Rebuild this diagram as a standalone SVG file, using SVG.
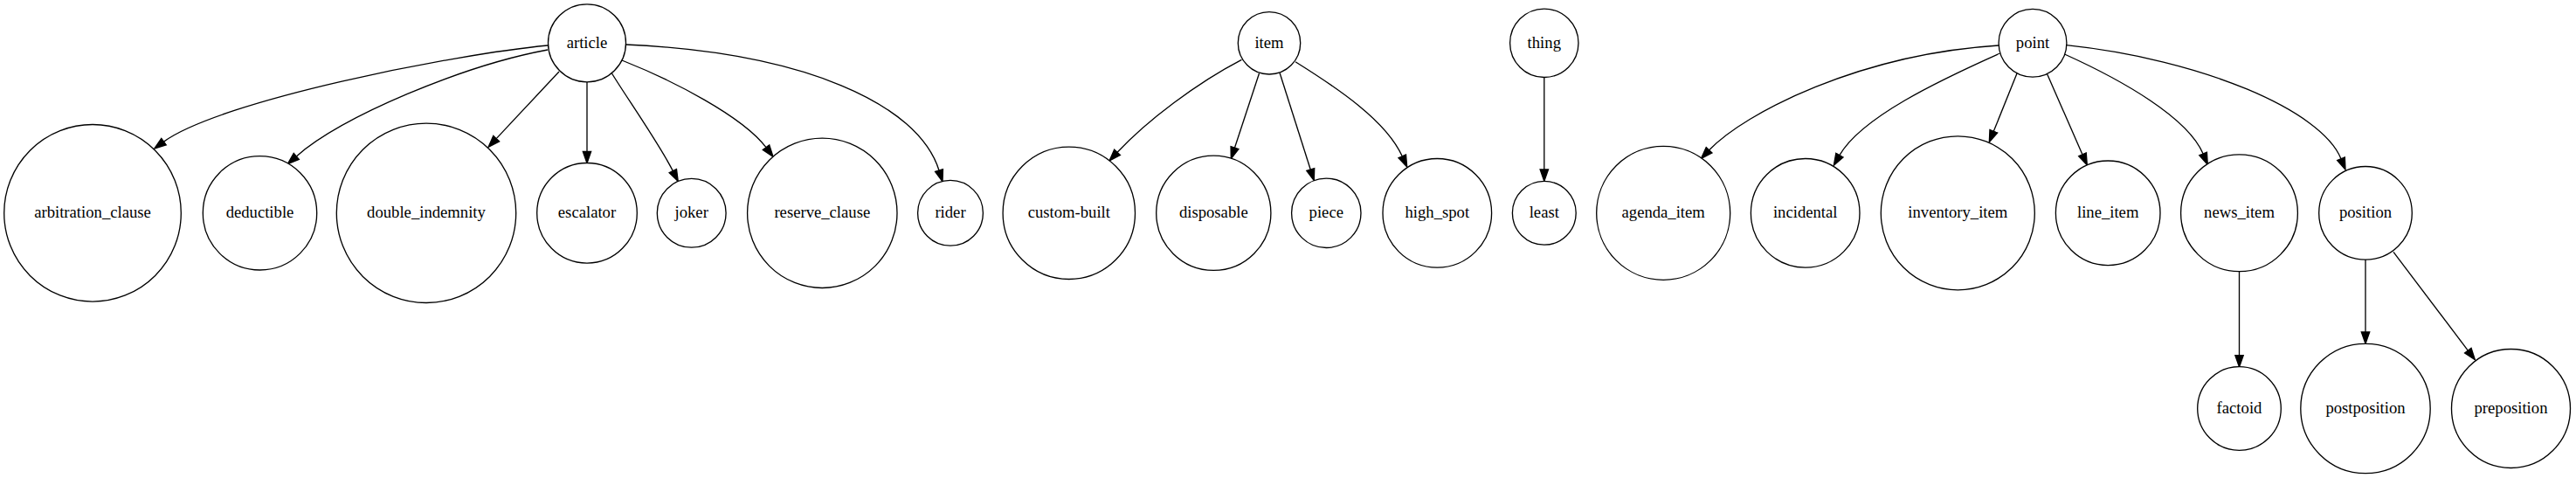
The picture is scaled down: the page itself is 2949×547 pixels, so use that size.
<svg xmlns="http://www.w3.org/2000/svg" width="2949" height="547" viewBox="0 0 2949 547">
<style>
.n circle{fill:#fff;stroke:#000;stroke-width:1.33}
.n text{font-family:"Liberation Serif","Times New Roman",serif;font-size:18.67px;text-anchor:middle;fill:#000}
.e path{fill:none;stroke:#000;stroke-width:1.33;marker-end:url(#ah)}
</style>
<defs>
<marker id="ah" markerUnits="userSpaceOnUse" viewBox="-1 -6 16 12" markerWidth="16" markerHeight="12" refX="0" refY="0" orient="auto">
<path d="M0,-4.67 L13.33,0 L0,4.67 Z" fill="#000" stroke="#000" stroke-width="1.33"/>
</marker>
</defs>
<rect width="2949" height="547" fill="#fff"/>
<g id="connectors" class="e">
<path d="M627,52 C520,62 252,115 187.5,162.1"/>
<path d="M627,57 C530,75 392,133 339.3,178.9"/>
<path d="M640,82 L568.2,158.65"/>
<path d="M672,93.8 L672,173.4"/>
<path d="M700.5,84 C715,108 755,165 770.3,195.6"/>
<path d="M712,69 C770,92 850,133 877,168.7"/>
<path d="M716,51 C920,60 1051,118.7 1075,195"/>
<path d="M1421.4,68.3 C1370,95 1313,138 1279.1,174.3"/>
<path d="M1441.5,84 L1413.5,169.05"/>
<path d="M1465,83.3 L1500.25,194"/>
<path d="M1483,70.7 C1530,100 1587,138 1605.25,178.85"/>
<path d="M1767.8,88.5 L1767.8,194"/>
<path d="M2288,52 C2130,62 1998,128.5 1956.6,171.8"/>
<path d="M2289.5,61 C2220,92 2130.6,134.3 2105.9,177.7"/>
<path d="M2309.3,83.3 L2282.3,150.3"/>
<path d="M2343.7,85 L2383.95,176.8"/>
<path d="M2363.5,62 C2430,92 2504.6,134.6 2522.1,176"/>
<path d="M2365.7,51.7 C2520,68 2657.4,126.1 2680,181.7"/>
<path d="M2563.5,310.7 L2563.5,406.7"/>
<path d="M2708,297.1 L2708,380"/>
<path d="M2740,288.3 L2825.3,401.1"/>
</g>
<g id="article" class="n"><circle cx="672" cy="49.3" r="44.5"/><text x="672" y="54.9">article</text></g>
<g id="item" class="n"><circle cx="1453" cy="49.3" r="35.7"/><text x="1453" y="54.9">item</text></g>
<g id="thing" class="n"><circle cx="1767.8" cy="49.3" r="39.2"/><text x="1767.8" y="54.9">thing</text></g>
<g id="point" class="n"><circle cx="2327" cy="49.3" r="38.9"/><text x="2327" y="54.9">point</text></g>
<g id="arbitration_clause" class="n"><circle cx="106" cy="243.8" r="101.3"/><text x="106" y="249.4">arbitration_clause</text></g>
<g id="deductible" class="n"><circle cx="297.5" cy="243.8" r="65.2"/><text x="297.5" y="249.4">deductible</text></g>
<g id="double_indemnity" class="n"><circle cx="488" cy="243.8" r="102.7"/><text x="488" y="249.4">double_indemnity</text></g>
<g id="escalator" class="n"><circle cx="672" cy="243.8" r="57.3"/><text x="672" y="249.4">escalator</text></g>
<g id="joker" class="n"><circle cx="791.7" cy="243.8" r="39.4"/><text x="791.7" y="249.4">joker</text></g>
<g id="reserve_clause" class="n"><circle cx="941.3" cy="243.8" r="85.7"/><text x="941.3" y="249.4">reserve_clause</text></g>
<g id="rider" class="n"><circle cx="1088" cy="243.8" r="37.4"/><text x="1088" y="249.4">rider</text></g>
<g id="custom-built" class="n"><circle cx="1223.8" cy="243.8" r="75.7"/><text x="1223.8" y="249.4">custom-built</text></g>
<g id="disposable" class="n"><circle cx="1389.3" cy="243.8" r="65.6"/><text x="1389.3" y="249.4">disposable</text></g>
<g id="piece" class="n"><circle cx="1518.3" cy="243.8" r="39.7"/><text x="1518.3" y="249.4">piece</text></g>
<g id="high_spot" class="n"><circle cx="1645.3" cy="243.8" r="62.3"/><text x="1645.3" y="249.4">high_spot</text></g>
<g id="least" class="n"><circle cx="1767.8" cy="243.8" r="36.4"/><text x="1767.8" y="249.4">least</text></g>
<g id="agenda_item" class="n"><circle cx="1904.2" cy="243.8" r="76.5"/><text x="1904.2" y="249.4">agenda_item</text></g>
<g id="incidental" class="n"><circle cx="2066.7" cy="243.8" r="62.3"/><text x="2066.7" y="249.4">incidental</text></g>
<g id="inventory_item" class="n"><circle cx="2241.3" cy="243.8" r="88"/><text x="2241.3" y="249.4">inventory_item</text></g>
<g id="line_item" class="n"><circle cx="2413.2" cy="243.8" r="59.8"/><text x="2413.2" y="249.4">line_item</text></g>
<g id="news_item" class="n"><circle cx="2563.5" cy="243.8" r="66.9"/><text x="2563.5" y="249.4">news_item</text></g>
<g id="position" class="n"><circle cx="2708" cy="243.8" r="53.3"/><text x="2708" y="249.4">position</text></g>
<g id="factoid" class="n"><circle cx="2563.5" cy="467.5" r="47.8"/><text x="2563.5" y="473.1">factoid</text></g>
<g id="postposition" class="n"><circle cx="2708" cy="467.5" r="74.2"/><text x="2708" y="473.1">postposition</text></g>
<g id="preposition" class="n"><circle cx="2874.5" cy="467.5" r="68"/><text x="2874.5" y="473.1">preposition</text></g>
</svg>
